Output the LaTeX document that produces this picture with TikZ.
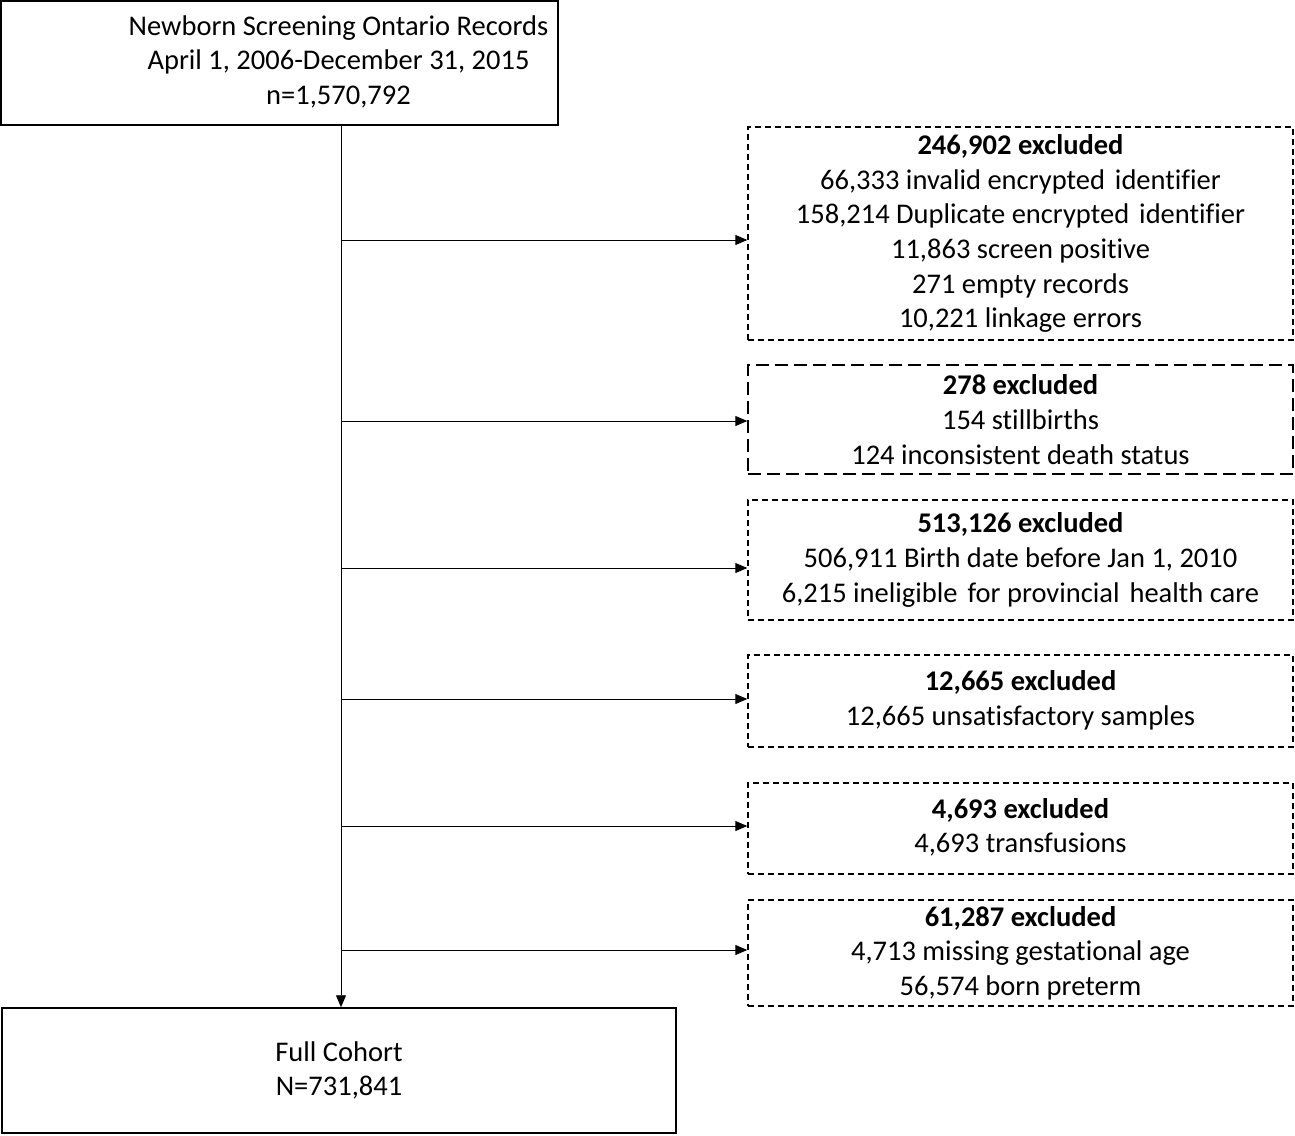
\documentclass[tikz,border=0pt]{standalone}
\usepackage{fontspec}
\setmainfont[Ligatures=NoCommon]{Carlito}
\usetikzlibrary{arrows.meta}
\begin{document}
\begin{tikzpicture}[x=1pt,y=-1pt,
  txt/.style={font=\fontsize{28.5}{34.7}\selectfont, align=center, inner sep=0pt},
  solidbox/.style={draw, line width=1.5pt, minimum width=#1, anchor=center},
  exbox/.style={draw, line width=1.4pt, dash pattern=on 6pt off 4pt, minimum width=545pt, anchor=center},
  longdash/.style={dash pattern=on 13pt off 6pt},
  conn/.style={line width=0.9pt, -{Triangle[length=12pt,width=10pt]}}
]
\useasboundingbox (0,0) rectangle (1295,1135);
\node[solidbox=557pt, minimum height=124pt, txt] (top) at (279.5,63)
  {\hspace*{118pt}\begin{tabular}{@{}c@{}}Newborn Screening Ontario Records\\April 1, 2006-December 31, 2015\\n=1,570,792\end{tabular}};
\node[solidbox=674pt, minimum height=125pt, txt] (bottom) at (339,1070.5)
  {Full Cohort\\N=731,841};

\node[exbox, minimum height=213pt, txt] (b1) at (1020.5,233.5)
  {\textbf{246,902 excluded}\\66,333 invalid encrypted\hspace{10pt}identifier\\158,214 Duplicate encrypted\hspace{10pt}identifier\\11,863 screen positive\\271 empty records\\10,221 linkage errors};
\node[exbox, longdash, minimum height=109pt, txt] (b2) at (1020.5,419.5)
  {\textbf{278 excluded}\\154 stillbirths\\124 inconsistent death status};
\node[exbox, minimum height=120pt, txt] (b3) at (1020.5,560)
  {\textbf{513,126 excluded}\\506,911 Birth date before Jan 1, 2010\\6,215 ineligible\hspace{10pt}for provincial\hspace{10pt}health care};
\node[exbox, minimum height=92pt, txt] (b4) at (1020.5,701)
  {\raisebox{3.5pt}{\begin{tabular}{@{}c@{}}\textbf{12,665 excluded}\\12,665 unsatisfactory samples\end{tabular}}};
\node[exbox, minimum height=91pt, txt] (b5) at (1020.5,828.5)
  {\raisebox{5pt}{\begin{tabular}{@{}c@{}}\textbf{4,693 excluded}\\4,693 transfusions\end{tabular}}};
\node[exbox, minimum height=106pt, txt] (b6) at (1020.5,953)
  {\textbf{61,287 excluded}\\4,713 missing gestational age\\56,574 born preterm};

\coordinate (ls) at (341,0);
\draw[conn] (ls |- top.south) -- (ls |- bottom.north);

\coordinate (c1) at (341,240);
\coordinate (c2) at (341,421);
\coordinate (c3) at (341,568);
\coordinate (c4) at (341,699);
\coordinate (c5) at (341,826);
\coordinate (c6) at (341,950);
\foreach \i in {1,...,6}{
  \draw[conn] (c\i) -- (c\i -| b\i.west);
}
\end{tikzpicture}
\end{document}
